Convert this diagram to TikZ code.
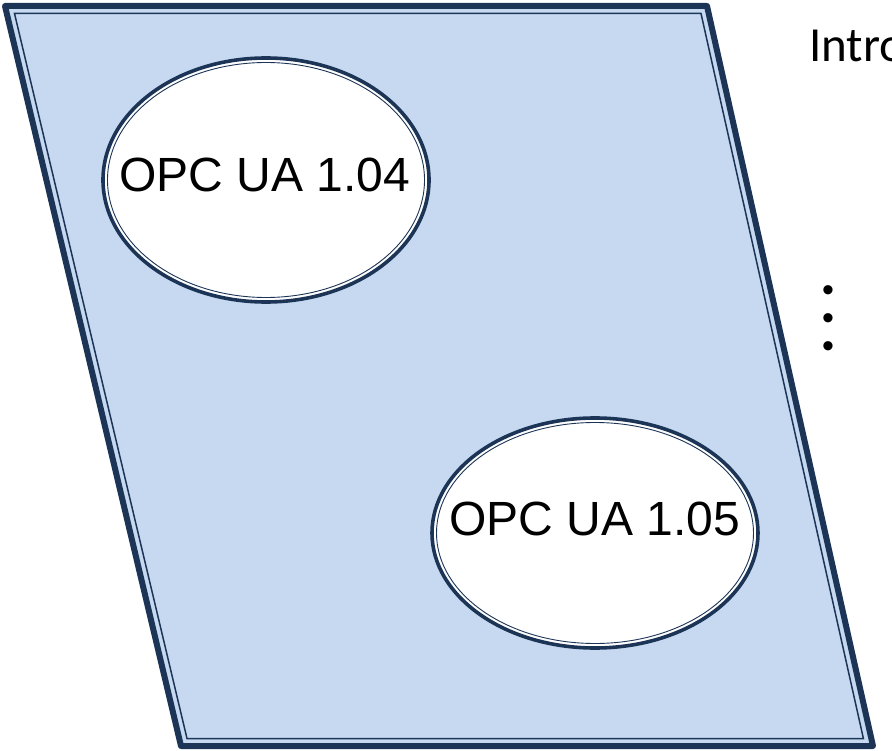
\documentclass[tikz,border=0pt]{standalone}
\usepackage{fontspec}
\setmainfont{Liberation Sans}
\newfontfamily\titlefont{Carlito}
\usetikzlibrary{shapes.geometric}

\definecolor{panelfill}{HTML}{C6D9F1}
\definecolor{panelline}{HTML}{1C3557}

\tikzset{
  verbox/.style={ellipse, draw=panelline, line width=3.6pt, fill=white,
    minimum width=326pt, minimum height=#1, inner sep=0pt},
  vertext/.style={anchor=base, font=\fontsize{48}{56}\selectfont},
  bullet/.style={font=\fontsize{34}{34}\selectfont, inner sep=0pt}
}

\begin{document}
\begin{tikzpicture}[x=1pt, y=-1pt]
	\useasboundingbox (0,0) rectangle (892,751);
	\clip (0,0) rectangle (892,751);

	% the slanted panel: thick outer line, thin inner line
	\fill[panelfill] (5,6) -- (707,6) -- (873,746) -- (181,746) -- cycle;
	\draw[panelline, line width=6pt, line join=round] (5,6) -- (707,6) -- (873,746) -- (181,746) -- cycle;
	\draw[panelline, line width=1.5pt] (14.5,13.5) -- (701,13.5) -- (863.4,738.5) -- (187,738.5) -- cycle;

	% the two versions
	\node[verbox=244pt] (v104) at (266,180) {};
	\draw[panelline, line width=0.9pt] (v104.center) ellipse (158.5pt and 117.5pt);
	\node[vertext] (t104) at (265,192) {OPC UA 1.04};

	\node[verbox=230pt] (v105) at (595,533) {};
	\draw[panelline, line width=0.9pt] (v105.center) ellipse (158.5pt and 110.5pt);
	\node[vertext] (t105) at (595,535) {OPC UA 1.05};

	% heading and list on the right
	\node[anchor=base west, inner sep=0pt, font=\titlefont\fontsize{49}{56}\selectfont] (intro) at (809,62) {Intro};
	\node[bullet] (b1) at (828,294) {•};
	\node[bullet] (b2) at (828,322) {•};
	\node[bullet] (b3) at (828,350) {•};
\end{tikzpicture}
\end{document}
